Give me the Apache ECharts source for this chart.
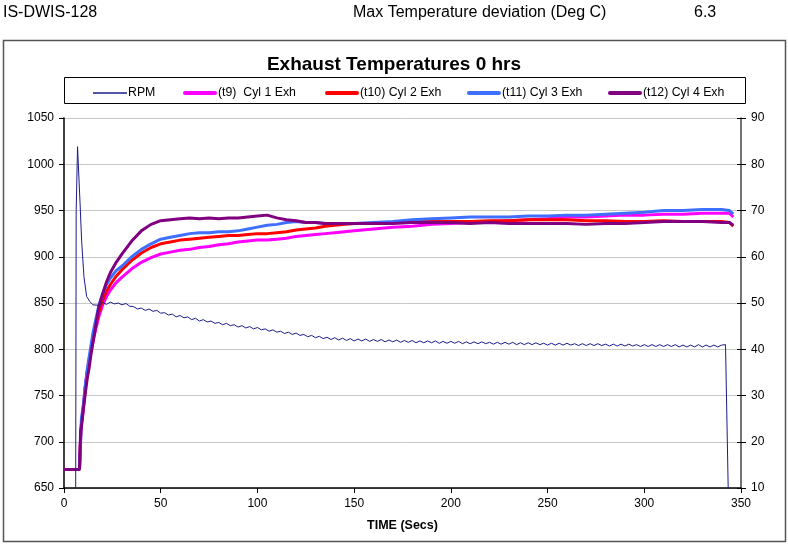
<!DOCTYPE html>
<html>
<head>
<meta charset="utf-8">
<script src="https://cdn.jsdelivr.net/npm/echarts@6/dist/echarts.min.js"></script>
<style>
html,body{margin:0;padding:0;background:#fff;}
#chart{width:788px;height:545px;}
</style>
</head>
<body>
<div id="chart"></div>
<script>
// ---- data ----
var seriesNames = ['RPM', '(t9)  Cyl 1 Exh', '(t10) Cyl 2 Exh', '(t11) Cyl 3 Exh', '(t12) Cyl 4 Exh'];
var xTicks = [0, 50, 100, 150, 200, 250, 300, 350];
var leftTicks = [650, 700, 750, 800, 850, 900, 950, 1000, 1050];
var rightTicks = [10, 20, 30, 40, 50, 60, 70, 80, 90];

var rpmTime = [0, 6, 6.3, 7, 8.3, 9.1, 10.3, 11.7, 13.4, 15,
  16, 18, 20, 22, 24, 26, 28, 30, 32, 34,
  36, 38, 40, 42, 44, 46, 48, 50, 52, 54,
  56, 58, 60, 62, 64, 66, 68, 70, 72, 74,
  76, 78, 80, 82, 84, 86, 88, 90, 92, 94,
  96, 98, 100, 102, 104, 106, 108, 110, 112, 114,
  116, 118, 120, 122, 124, 126, 128, 130, 132, 134,
  136, 138, 140, 142, 144, 146, 148, 150, 152, 154,
  156, 158, 160, 162, 164, 166, 168, 170, 172, 174,
  176, 178, 180, 182, 184, 186, 188, 190, 192, 194,
  196, 198, 200, 202, 204, 206, 208, 210, 212, 214,
  216, 218, 220, 222, 224, 226, 228, 230, 232, 234,
  236, 238, 240, 242, 244, 246, 248, 250, 252, 254,
  256, 258, 260, 262, 264, 266, 268, 270, 272, 274,
  276, 278, 280, 282, 284, 286, 288, 290, 292, 294,
  296, 298, 300, 302, 304, 306, 308, 310, 312, 314,
  316, 318, 320, 322, 324, 326, 328, 330, 332, 334,
  336, 338, 340, 342, 343.6, 343.7];
var rpmValues = [0, 0, 70, 83.8, 71.6, 63.6, 55.7, 51.4, 50.3, 49.6,
  49.9, 49.5, 50.1, 49.7, 50.2, 49.8, 50.0, 49.6, 49.9, 49.3,
  49.2, 48.7, 48.9, 48.4, 48.7, 48.2, 48.4, 47.8, 47.9, 47.4,
  47.6, 47.0, 47.3, 46.8, 47.0, 46.4, 46.7, 46.1, 46.4, 45.9,
  46.1, 45.6, 45.8, 45.3, 45.6, 45.1, 45.3, 44.8, 45.1, 44.6,
  44.9, 44.4, 44.7, 44.2, 44.4, 43.9, 44.2, 43.7, 43.9, 43.4,
  43.7, 43.2, 43.5, 43.0, 43.2, 42.7, 43.0, 42.5, 42.8, 42.3,
  42.6, 42.1, 42.5, 42.0, 42.4, 41.9, 42.3, 41.8, 42.2, 41.8,
  42.2, 41.7, 42.1, 41.7, 42.1, 41.6, 42.0, 41.6, 42.0, 41.5,
  41.9, 41.5, 41.9, 41.4, 41.8, 41.4, 41.8, 41.4, 41.8, 41.3,
  41.7, 41.3, 41.7, 41.3, 41.7, 41.2, 41.6, 41.2, 41.6, 41.2,
  41.6, 41.2, 41.5, 41.1, 41.5, 41.1, 41.5, 41.1, 41.5, 41.0,
  41.4, 41.0, 41.4, 41.0, 41.4, 41.0, 41.3, 40.9, 41.3, 40.9,
  41.3, 40.9, 41.3, 40.9, 41.2, 40.8, 41.2, 40.8, 41.2, 40.8,
  41.2, 40.8, 41.1, 40.7, 41.1, 40.7, 41.1, 40.7, 41.1, 40.7,
  41.0, 40.6, 41.0, 40.6, 41.0, 40.6, 41.0, 40.6, 41.0, 40.6,
  41.0, 40.5, 40.9, 40.5, 40.9, 40.5, 41.0, 40.5, 40.9, 40.5,
  40.9, 40.5, 40.9, 41.0, 5, 0];

var tempTime = [0, 8, 8.6, 9, 10, 11, 12, 13, 14, 15, 16, 18, 20, 22, 24, 27, 30, 35, 40, 45,
  50, 55, 60, 65, 70, 75, 80, 85, 90, 95, 100, 105, 110, 115, 120, 125, 130, 135, 140, 145,
  150, 160, 170, 180, 190, 200, 210, 220, 230, 240, 250, 260, 270, 280, 290, 300, 310, 320, 330, 340,
  344, 346];
var cyl1 = [670, 670, 705, 718, 735, 760, 776, 786, 798, 808, 818, 835, 848, 857, 864, 872, 878, 887, 894, 899,
  903, 905, 907, 908, 910, 911, 913, 914, 916, 917, 918, 918, 919, 920, 922, 923, 924, 925, 926, 927,
  928, 930, 932, 933, 935, 936, 937, 938, 939, 940, 941, 943, 943, 944, 945, 945, 946, 946, 947, 947,
  947, 943];
var cyl2 = [670, 670, 705, 720, 738, 758, 775, 788, 800, 812, 822, 840, 853, 863, 870, 879, 886, 896, 904, 910,
  914, 916, 918, 919, 920, 921, 922, 923, 923, 924, 925, 925, 926, 927, 929, 930, 931, 933, 934, 935,
  936, 936, 937, 938, 938, 938, 938, 939, 939, 940, 940, 940, 939, 939, 938, 938, 939, 938, 938, 938,
  937, 933];
var cyl3 = [670, 670, 700, 725, 740, 760, 778, 792, 805, 818, 828, 847, 860, 870, 877, 885, 890, 900, 908, 914,
  919, 921, 923, 925, 926, 926, 927, 927, 928, 930, 932, 934, 935, 937, 938, 937, 937, 936, 936, 936,
  936, 937, 938, 940, 941, 942, 943, 943, 943, 944, 944, 945, 945, 946, 947, 948, 950, 950, 951, 951,
  950, 946];
var cyl4 = [670, 670, 712, 716, 735, 752, 768, 780, 795, 808, 820, 846, 860, 873, 883, 894, 903, 917, 928, 935,
  939, 940, 941, 942, 941, 942, 941, 942, 942, 943, 944, 945, 942, 940, 939, 937, 937, 936, 936, 936,
  936, 936, 936, 937, 937, 937, 936, 937, 936, 936, 936, 936, 935, 936, 936, 937, 938, 938, 938, 937,
  937, 934];

function pairs(ts, vs) { return ts.map(function (t, i) { return [t, vs[i]]; }); }

var colors = ['#1c1c8a', '#ff00ff', '#ff0000', '#3f6fff', '#800080'];
var FONT = '"Liberation Sans", Arial, sans-serif';
var legendLeft = [88, 178, 320, 462, 603];

var chart = echarts.init(document.getElementById('chart'), null, {renderer: 'canvas'});

function tempSeries(idx, data) {
  return {
    name: seriesNames[idx], type: 'line', yAxisIndex: 0, data: data,
    showSymbol: false, symbol: 'none', z: 2 + idx,
    lineStyle: {color: colors[idx], width: 3}, itemStyle: {color: colors[idx]},
    emphasis: {disabled: true}
  };
}

var legends = seriesNames.map(function (n, i) {
  return {
    left: legendLeft[i], top: 82, padding: 5,
    itemWidth: 34, itemHeight: 10, itemGap: 0, selectedMode: false,
    textStyle: {fontFamily: FONT, fontSize: 12.3, color: '#000', padding: [0, 0, 0, -4]},
    data: [{
      name: n,
      icon: i === 0 ? 'path://M0,0 L34,0 L34,1.4 L0,1.4 Z' : 'path://M2,0 L32,0 A2,2 0 0 1 32,4 L2,4 A2,2 0 0 1 2,0 Z',
      itemStyle: {color: colors[i], borderWidth: 0}
    }]
  };
});

var option = {
  animation: false,
  textStyle: {fontFamily: FONT},
  title: {
    text: 'Exhaust Temperatures 0 hrs', left: 'center', top: 50,
    textStyle: {fontFamily: FONT, fontSize: 19, fontWeight: 'bold', color: '#000'}
  },
  legend: legends,
  graphic: [
    {type: 'rect', shape: {x: 3.5, y: 40.5, width: 782, height: 501}, style: {fill: null, stroke: '#555', lineWidth: 1.5}, silent: true, z: -1},
    {type: 'rect', shape: {x: 64.5, y: 77.5, width: 681, height: 26}, style: {fill: null, stroke: '#000', lineWidth: 1}, silent: true},
    {type: 'text', left: 3, top: 5, style: {text: 'IS-DWIS-128', font: '16px ' + FONT, fill: '#000'}},
    {type: 'text', left: 353, top: 5, style: {text: 'Max Temperature deviation (Deg C)', font: '16px ' + FONT, fill: '#000'}},
    {type: 'text', left: 694, top: 5, style: {text: '6.3', font: '16px ' + FONT, fill: '#000'}}
  ],
  grid: {left: 64, right: 47, top: 118, bottom: 57, containLabel: false},
  xAxis: {
    type: 'value', min: xTicks[0], max: xTicks[xTicks.length - 1], interval: 50,
    name: 'TIME (Secs)', nameLocation: 'middle', nameGap: 31,
    nameTextStyle: {fontFamily: FONT, fontSize: 12.5, fontWeight: 'bold', color: '#000'},
    axisLine: {onZero: false, lineStyle: {color: '#000', width: 1.5}},
    axisTick: {show: true, length: 5, lineStyle: {color: '#000'}},
    axisLabel: {fontFamily: FONT, fontSize: 12, color: '#000', margin: 10},
    splitLine: {show: false}
  },
  yAxis: [
    {
      type: 'value', min: leftTicks[0], max: leftTicks[leftTicks.length - 1], interval: 50, position: 'left',
      axisLine: {show: true, lineStyle: {color: '#000', width: 1.5}},
      axisTick: {show: true, length: 5, lineStyle: {color: '#000'}},
      axisLabel: {fontFamily: FONT, fontSize: 12, color: '#000', margin: 10, formatter: function (v) { return String(v); }},
      splitLine: {show: true, lineStyle: {color: '#c8c8c8', width: 1}}
    },
    {
      type: 'value', min: rightTicks[0], max: rightTicks[rightTicks.length - 1], interval: 10, position: 'right',
      axisLine: {show: true, lineStyle: {color: '#444', width: 1.5}},
      axisTick: {show: true, length: 5, lineStyle: {color: '#000'}},
      axisLabel: {fontFamily: FONT, fontSize: 12, color: '#000', margin: 10, formatter: function (v) { return String(v); }},
      splitLine: {show: false}
    },
    {
      type: 'value', min: rightTicks[0], max: rightTicks[rightTicks.length - 1], interval: 10, position: 'right',
      axisLine: {show: false},
      axisTick: {show: true, inside: true, length: 4, lineStyle: {color: '#000'}},
      axisLabel: {show: false},
      splitLine: {show: false}
    }
  ],
  series: [
    tempSeries(1, pairs(tempTime, cyl1)),
    tempSeries(2, pairs(tempTime, cyl2)),
    tempSeries(3, pairs(tempTime, cyl3)),
    tempSeries(4, pairs(tempTime, cyl4)),
    {
      name: seriesNames[0], type: 'line', yAxisIndex: 1, data: pairs(rpmTime, rpmValues),
      showSymbol: false, symbol: 'none', z: 10, clip: true,
      lineStyle: {color: colors[0], width: 1}, itemStyle: {color: colors[0]},
      emphasis: {disabled: true}
    }
  ]
};
chart.setOption(option);
</script>
</body>
</html>
